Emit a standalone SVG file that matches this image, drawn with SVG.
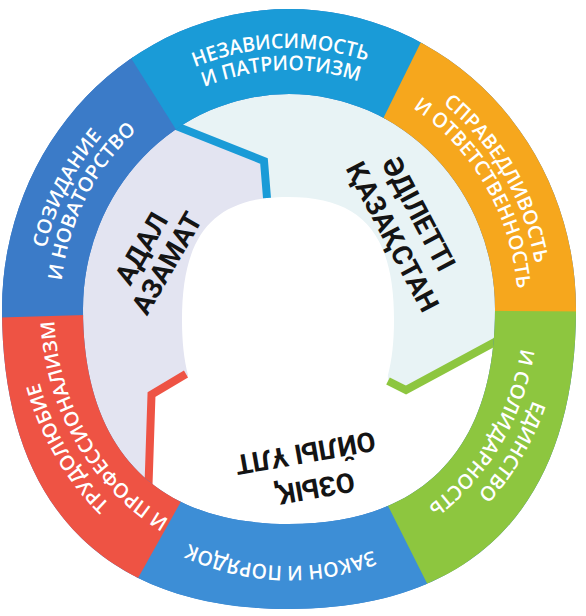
<svg xmlns="http://www.w3.org/2000/svg" width="586" height="616" viewBox="0 0 586 616">
<style>
.rt{font-family:"Open Sans","Noto Sans","DejaVu Sans",sans-serif;font-size:19.5px;font-weight:600;fill:#fff;text-anchor:middle}
.zt{font-family:Roboto,"Noto Sans","DejaVu Sans",sans-serif;font-size:27.5px;font-weight:700;fill:#141414;text-anchor:middle}
.ln{fill:none;stroke-width:8;stroke-linejoin:miter;stroke-linecap:butt}
</style>
<defs>
<path id="ring" fill-rule="evenodd" d="M2,309 A287,300 0 0 1 576,309 C576,504 475.6,609 289,609 C102.4,609 2,504 2,309 Z M83,309 A206,215 0 0 1 495,309 C495,448.75 422.9,524 289,524 C155.1,524 83,448.75 83,309 Z"/>
<clipPath id="wLB"><polygon points="289,309 -210.6,328.2 26.2,-116.4"/></clipPath>
<clipPath id="wTB"><polygon points="289,309 22.6,-114.1 514.5,-137.3"/></clipPath>
<clipPath id="wOR"><polygon points="289,309 510.6,-139.3 788.9,317.7"/></clipPath>
<clipPath id="wGR"><polygon points="289,309 789,313.4 509.8,757.7"/></clipPath>
<clipPath id="wBB"><polygon points="289,309 513.7,755.7 40.5,742.9"/></clipPath>
<clipPath id="wRD"><polygon points="289,309 44.3,745.1 -210.8,323.8"/></clipPath>
<path id="p250" d="M-246.2,-43.4 A250,250 0 0 1 246.2,-43.4"/>
<path id="p229" d="M-225.5,-39.8 A229,229 0 0 1 225.5,-39.8"/>
<path id="p259" d="M-255.1,-45 A259,259 0 0 1 255.1,-45"/>
<path id="p235" d="M-231.4,-40.8 A235,235 0 0 1 231.4,-40.8"/>
<path id="p246" d="M-242.3,-42.7 A246,246 0 0 1 242.3,-42.7"/>
</defs>
<rect width="586" height="616" fill="#fff"/>

<g id="zone-adal-azamat">
<path fill="#e3e4f1" d="M151.5,394.5 L148,500 L100,470 L60,400 L55,309 L70,230 L110,150 L149,115 L264,161 L267,198 C207.76,204.87 182,242.51 182,320 C182,341.53 183.99,359.98 188.13,375.55 Z"/>
<text class="zt" transform="translate(158,258) rotate(-60)"><tspan x="0" y="-9.7">АДАЛ</tspan><tspan x="0" y="19.7">АЗАМАТ</tspan></text>
</g>
<g id="zone-adiletti-qazaqstan">
<path fill="#e8f3f5" d="M267,198 L264,161 L149,115 L180,60 L289,40 L420,75 L520,200 L530,309 L520,328.5 L406,390 L388,381 L387.87,375.55 C392.01,359.98 394,341.53 394,320 C394,233.9 362.2,197 288,197 C280.58,197 273.62,197.37 267.03,198.12 Z"/>
<text class="zt" transform="translate(406,225) rotate(62)"><tspan x="-4" y="-7">ӘДІЛЕТТІ</tspan><tspan x="4" y="27">ҚАЗАҚСТАН</tspan></text>
</g>
<g id="zone-ozyq-oily-ult">
<text class="zt" transform="translate(310,471) rotate(170)"><tspan x="-1.7" y="-8.5">ОЗЫҚ</tspan><tspan x="1.4" y="28.1">ОЙЛЫ ҰЛТ</tspan></text>
</g>

<g id="connectors">
<polyline class="ln" stroke="#1a9bd7" points="160,119.6 264,161 267,198"/>
<polyline class="ln" stroke="#8dc63f" points="520,328.5 406,390 388,381"/>
<polyline class="ln" stroke="#ee5344" points="186,374 151.5,394.5 148,500"/>
</g>

<use href="#ring" fill="#3b7bc8"/>
<g id="seg-sozidanie">
<use href="#ring" fill="#3b7bc8" clip-path="url(#wLB)"/>
<g transform="translate(289,309) scale(1,1.0437) rotate(-62.5)">
<text class="rt"><textPath href="#p250" startOffset="50%">СОЗИДАНИЕ</textPath></text>
<text class="rt"><textPath href="#p229" startOffset="50%">И НОВАТОРСТВО</textPath></text>
</g>
</g>
<g id="seg-nezavisimost">
<use href="#ring" fill="#1a9bd7" clip-path="url(#wTB)"/>
<g transform="translate(289,309) scale(1,1.0437) rotate(-2)">
<text class="rt"><textPath href="#p250" startOffset="50%">НЕЗАВИСИМОСТЬ</textPath></text>
<text class="rt"><textPath href="#p229" startOffset="50%">И ПАТРИОТИЗМ</textPath></text>
</g>
</g>
<g id="seg-spravedlivost">
<use href="#ring" fill="#f6a71d" clip-path="url(#wOR)"/>
<g transform="translate(289,309) scale(1,1.0437) rotate(59)">
<text class="rt"><textPath href="#p250" startOffset="50%">СПРАВЕДЛИВОСТЬ</textPath></text>
<text class="rt"><textPath href="#p229" startOffset="50%">И ОТВЕТСТВЕННОСТЬ</textPath></text>
</g>
</g>
<g id="seg-edinstvo">
<use href="#ring" fill="#8dc63f" clip-path="url(#wGR)"/>
<g transform="translate(289,309) scale(1,1.0437) rotate(121.5)">
<text class="rt"><textPath href="#p259" startOffset="50%">ЕДИНСТВО</textPath></text>
<text class="rt"><textPath href="#p235" startOffset="50%">И СОЛИДАРНОСТЬ</textPath></text>
</g>
</g>
<g id="seg-zakon">
<use href="#ring" fill="#3d8ed6" clip-path="url(#wBB)"/>
<g transform="translate(289,309) scale(1,1.0437) rotate(182)">
<text class="rt"><textPath href="#p246" startOffset="50%">ЗАКОН И ПОРЯДОК</textPath></text>
</g>
</g>
<g id="seg-trudolyubie">
<use href="#ring" fill="#ee5344" clip-path="url(#wRD)"/>
<g transform="translate(289,309) scale(1,1.0437) rotate(239)">
<text class="rt"><textPath href="#p259" startOffset="50%">ТРУДОЛЮБИЕ</textPath></text>
<text class="rt"><textPath href="#p235" startOffset="50%">И ПРОФЕССИОНАЛИЗМ</textPath></text>
</g>
</g>
</svg>
